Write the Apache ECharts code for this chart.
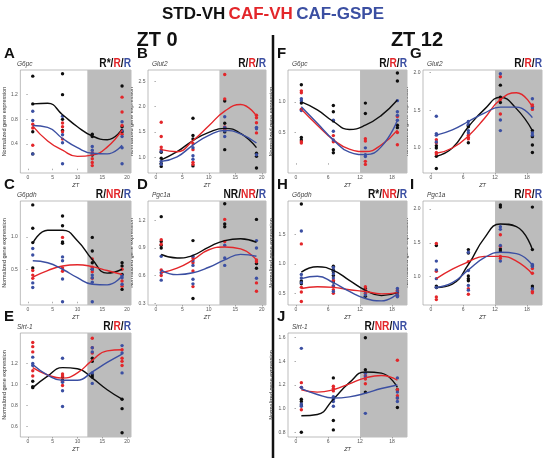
<!DOCTYPE html>
<html><head><meta charset="utf-8">
<script src="https://cdn.jsdelivr.net/npm/echarts@6/dist/echarts.min.js"></script>
<style>html,body{margin:0;padding:0;background:#fff}#c{width:546px;height:458px}</style>
</head><body><div id="c"></div>
<script>
// ---------- data ----------
const sampleTimes = [1, 7, 13, 19];
const fitTimes = [1, 4, 7, 10, 13, 16, 19];
const groupNames = ['STD-VH', 'CAF-VH', 'CAF-GSPE'];
const xTicksZT0 = [0, 5, 10, 15, 20];
const xTicksZT12 = [0, 6, 12, 18];
const panelLetters = ['A','B','C','D','E','F','G','H','I','J'];
const geneNames = ['G6pc','Glut2','G6pdh','Pgc1a','Sirt-1','G6pc','Glut2','G6pdh','Pgc1a','Sirt-1'];
const rhythmStats = [['R*','R','R'],['R','R','R'],['R','NR','R'],['NR','NR','R'],['R','R','R'],
                     ['R','R','R'],['R','R','R'],['R*','NR','R'],['R','R','R'],['R','NR','NR']];
const panelYTicks = [[0.4,0.8,1.2],[1.0,1.5,2.0,2.5],[0.5,1.0],[0.3,0.6,0.9,1.2],[0.6,0.8,1.0,1.2],
                     [0.5,1.0],[1.0,1.5,2.0],[0.5,1.0,1.5],[1.0,1.5,2.0],[0.8,1.0,1.2,1.4,1.6]];

// points: [STD-VH, CAF-VH, CAF-GSPE], each grouped by sample time (ZT1, ZT7, ZT13, ZT19)
const A_points = [
  [[1.50,1.05,0.60,0.24],[1.54,1.20,0.80,0.62],[0.56,0.52,0.22],[1.34,0.68,0.60]],
  [[0.72,0.66,0.38],[0.74,0.68,0.60,0.48],[0.26,0.16,0.10,0.05],[1.16,0.92,0.70,0.56]],
  [[0.93,0.78,0.24],[0.85,0.55,0.42,0.08],[0.36,0.30,0.24],[0.76,0.62,0.52,0.34,0.08]]];
const A_fits = [[1.05,1.06,0.875,0.68,0.53,0.47,0.64],[0.69,0.45,0.30,0.20,0.22,0.35,0.63],[0.70,0.67,0.49,0.34,0.25,0.24,0.38]];

const B_points = [
  [[1.10,0.98,0.88,0.82],[1.77,1.43,1.36,0.83],[2.11,1.67,1.50,1.15],[1.08,1.02,0.79]],
  [[1.69,1.41,1.20,1.15],[1.27,1.15,0.90,0.86],[2.63,2.15,1.60,1.55],[1.83,1.78,1.68,1.48]],
  [[1.12,0.92,0.86],[1.19,1.03,0.96],[1.80,1.59,1.52,1.41],[1.59,1.56,1.05]]];
const B_fits = [[0.95,1.11,1.33,1.49,1.57,1.47,1.19],[1.15,1.11,1.33,1.62,1.91,2.04,1.81],[0.92,1.01,1.24,1.43,1.53,1.46,1.28]];

const C_points = [
  [[1.49,1.13,0.91,0.52],[1.32,1.17,0.92,0.90],[0.99,0.78,0.60,0.50],[0.60,0.55,0.42,0.19]],
  [[0.48,0.41,0.36],[0.99,0.52,0.47],[0.66,0.53,0.46,0.36],[0.50,0.32,0.24]],
  [[0.82,0.72,0.29,0.22],[0.69,0.63,0.35,0.00],[0.50,0.41,0.37,0.30,0.00],[0.40,0.37,0.27]]];
const C_fits = [[0.90,1.10,1.10,0.94,0.65,0.44,0.50],[0.38,0.48,0.55,0.57,0.54,0.48,0.42],[0.63,0.60,0.50,0.37,0.27,0.26,0.40]];

const D_points = [
  [[1.24,0.97,0.93,0.90],[0.98,0.35],[1.38,1.16,1.13],[1.21,0.73,0.68]],
  [[0.99,0.94,0.66,0.60],[0.79,0.74,0.65,0.48],[1.21,0.97],[0.77,0.75,0.52,0.43]],
  [[0.81,0.63,0.55],[0.81,0.76,0.71,0.56,0.51],[0.93,0.79,0.71],[0.98,0.90,0.57]]];
const D_fits = [[0.83,0.79,0.82,0.91,0.98,1.00,0.96],[0.63,0.68,0.77,0.88,0.91,0.89,0.77],[0.66,0.61,0.63,0.69,0.77,0.83,0.81]];

const E_points = [
  [[1.03,0.98,0.97],[1.07,1.04],[1.25,1.22,1.09,1.07],[0.86,0.77,0.54]],
  [[1.40,1.36,1.31,1.13,1.08],[1.10,1.08,1.03,0.99],[1.44,1.35,1.30],[1.33,1.25,1.22,1.18]],
  [[1.26,1.20,1.18],[1.25,1.02,0.94,0.79],[1.35,1.31,1.11,1.01],[1.37,1.30,1.11]]];
const E_fits = [[0.97,1.08,1.16,1.15,1.06,0.95,0.86],[1.16,1.09,1.06,1.11,1.23,1.32,1.33],[1.19,1.09,1.04,1.04,1.12,1.21,1.29]];

const F_points = [
  [[1.28,0.98,0.42,0.38],[0.94,0.84,0.69,0.22,0.17],[0.98,0.81],[1.47,1.34,0.62,0.58]],
  [[1.18,1.15,0.88,0.35,0.33],[0.45,0.35],[0.40,0.36,0.03,-0.02],[0.76,0.50,0.30]],
  [[1.05,1.02,0.86],[0.70,0.52,0.38],[0.25,0.14,0.11],[1.02,0.84,0.78,0.70]]];
const F_fits = [[1.00,0.87,0.68,0.55,0.62,0.78,1.03],[0.88,0.62,0.38,0.23,0.19,0.30,0.54],[0.92,0.65,0.38,0.18,0.14,0.27,0.70]];

const G_points = [
  [[1.03,1.00,0.89,0.73],[1.30,1.28,1.07],[1.83,1.67,1.60],[1.23,1.15,1.04,0.94]],
  [[1.11,1.07,0.94,0.92],[1.17,1.14,1.12],[1.94,1.64,1.45],[1.57,1.55,1.51]],
  [[1.42,1.19,1.17,1.08],[1.35,1.31,1.23,1.20],[1.98,1.37,1.23],[1.65,1.53,1.20,1.17]]];
const G_fits = [[0.89,1.00,1.28,1.51,1.67,1.52,1.23],[0.93,1.00,1.16,1.39,1.64,1.73,1.54],[1.17,1.24,1.35,1.46,1.54,1.54,1.40]];

const H_points = [
  [[2.02,0.71,0.69,0.66],[0.96,0.90,0.87,0.80,0.69],[0.58,0.54,0.45],[0.51,0.46]],
  [[1.34,0.60,0.52,0.36],[0.72,0.62,0.56,0.50],[0.61,0.56,0.50],[0.55,0.49,0.45]],
  [[1.56,0.82,0.76,0.68],[0.94,0.89,0.83,0.76,0.63,0.53],[0.53,0.47],[0.58,0.53,0.47,0.44]]];
const H_fits = [[0.86,0.95,0.89,0.72,0.55,0.46,0.51],[0.58,0.61,0.60,0.56,0.53,0.49,0.51],[0.75,0.79,0.68,0.53,0.41,0.37,0.49]];

const I_points = [
  [[1.46,0.86,0.84],[1.40,1.35,1.01,0.97,0.94],[2.06,2.03,1.41,1.38],[2.03,1.40,1.16,0.86,0.83]],
  [[1.49,1.08,0.70,0.66],[1.22,0.82,0.74],[1.62,1.45,1.30,1.27],[1.12,1.05,0.78,0.76]],
  [[1.23,1.10,0.97,0.84],[1.36,1.09,0.87,0.80],[1.74,1.70,1.46,1.23],[1.18,1.15,0.82]]];
const I_fits = [[0.84,0.89,1.18,1.57,1.78,1.74,1.40],[0.97,1.11,1.22,1.30,1.30,1.23,1.04],[0.84,0.91,1.10,1.28,1.36,1.34,1.17]];

const J_points = [
  [[1.08,1.06,1.03,0.80],[1.26,0.90,0.82],[1.60,1.33,1.14],[1.16,1.01]],
  [[1.22,1.18,0.99],[1.19,1.17,1.15],[1.28,1.25,1.21],[1.41,1.16,1.11,1.09]],
  [[1.51,1.18,1.04,1.02],[1.10,1.08,1.06,1.02],[1.30,1.27,0.96],[1.26,1.14,1.09,1.06]]];
const J_fits = [[0.94,0.95,1.08,1.22,1.31,1.30,1.18],[1.16,1.14,1.16,1.21,1.26,1.28,1.24],[1.17,1.12,1.09,1.10,1.13,1.17,1.20]];

const panelPoints = [A_points,B_points,C_points,D_points,E_points,F_points,G_points,H_points,I_points,J_points];
const panelFits = [A_fits,B_fits,C_fits,D_fits,E_fits,F_fits,G_fits,H_fits,I_fits,J_fits];

// ---------- layout / style ----------
const FONT = '"Liberation Sans", Arial, Helvetica, sans-serif';
const colors = ['#0d0d0d', '#e3262a', '#3b4fa2'];
const cols = [{l:13,w:118},{l:148,w:118},{l:288,w:119},{l:423,w:119}];
const rows = [{t:70,h:103},{t:201,h:104},{t:333,h:104}];
const place = [[0,0],[1,0],[0,1],[1,1],[0,2],[2,0],[3,0],[2,1],[3,1],[2,2]];
const isZT12 = [false,false,false,false,false,true,true,true,true,true];
const yRange = [[-0.07,1.6],[0.69,2.72],[-0.05,1.55],[0.28,1.41],[0.5,1.49],
                [-0.16,1.52],[0.67,2.03],[0.3,2.07],[0.58,2.12],[0.76,1.64]];
const letterX = [4,137,4,137,4,277,410,277,410,277];
const X_MIN = -1.5, X_MAX = 20.8, SHADE_START = 12;

const grid=[], xAxis=[], yAxis=[], series=[], graphic=[];
const richStyles = {
  k:{fill:'#111', fontSize:12, fontWeight:'bold', fontFamily:FONT},
  r:{fill:colors[1], fontSize:12, fontWeight:'bold', fontFamily:FONT},
  b:{fill:colors[2], fontSize:12, fontWeight:'bold', fontFamily:FONT}
};

panelLetters.forEach((letter, i) => {
  const c = place[i][0], r = place[i][1];
  const L = cols[c].l, W = cols[c].w, T = rows[r].t, H = rows[r].h;
  grid.push({left:L, top:T, width:W, height:H, show:true, backgroundColor:'#fff', borderColor:'#a0a0a0', borderWidth:0.7});
  const xt = isZT12[i] ? xTicksZT12 : xTicksZT0;
  xAxis.push({type:'value', gridIndex:i, min:X_MIN, max:X_MAX,
    name:'ZT', nameLocation:'middle', nameGap:9,
    nameTextStyle:{fontSize:5.5, fontStyle:'italic', color:'#333', fontFamily:FONT},
    axisLine:{show:false}, splitLine:{show:false},
    axisTick:{show:true, length:1.5, customValues:xt, lineStyle:{color:'#777', width:0.6}},
    axisLabel:{customValues:xt, fontSize:5, color:'#555', margin:2.5, fontFamily:FONT, formatter:v=>String(v)}});
  yAxis.push({type:'value', gridIndex:i, min:yRange[i][0], max:yRange[i][1],
    name:'Normalized gene expression', nameLocation:'middle', nameGap:8,
    nameTextStyle:{fontSize:5.5, color:'#333', fontFamily:FONT},
    axisLine:{show:false}, splitLine:{show:false},
    axisTick:{show:true, length:1.5, customValues:panelYTicks[i], lineStyle:{color:'#777', width:0.6}},
    axisLabel:{customValues:panelYTicks[i], fontSize:5, color:'#555', margin:2.5, fontFamily:FONT, formatter:v=>v.toFixed(1)}});
  series.push({type:'line', xAxisIndex:i, yAxisIndex:i, data:[], silent:true, z:1,
    markArea:{silent:true, itemStyle:{color:'#bcbcbc'}, data:[[{xAxis:SHADE_START},{xAxis:X_MAX}]]}});
  panelPoints[i].forEach((groups, g) => {
    const data = [];
    groups.forEach((vals, t) => vals.forEach(v => data.push([sampleTimes[t], v])));
    series.push({type:'scatter', name:groupNames[g], xAxisIndex:i, yAxisIndex:i, data, symbolSize:3.4,
      itemStyle:{color:colors[g], opacity:1}, z:3, silent:true});
  });
  panelFits[i].forEach((vals, g) => {
    series.push({type:'line', name:groupNames[g], xAxisIndex:i, yAxisIndex:i,
      data:fitTimes.map((t,k)=>[t, vals[k]]), smooth:0.5, symbol:'none',
      lineStyle:{color:colors[g], width:1.4}, z:4, silent:true});
  });
  graphic.push({type:'text', x:letterX[i], y:T-16, style:{text:letter, font:'bold 15px '+FONT, fill:'#111',
    align:'left', verticalAlign:'middle', textAlign:'left', textVerticalAlign:'middle'}});
  graphic.push({type:'text', x:L+4, y:T-6, style:{text:geneNames[i], font:'italic 6.5px '+FONT, fill:'#444',
    align:'left', verticalAlign:'middle', textAlign:'left', textVerticalAlign:'middle'}});
  const s = rhythmStats[i];
  graphic.push({type:'text', x:L+W, y:T-6.5, scaleX:0.85, style:{
    text:'{k|'+s[0]+'}{k|/}{r|'+s[1]+'}{k|/}{b|'+s[2]+'}', rich:richStyles,
    align:'right', verticalAlign:'middle', textAlign:'right', textVerticalAlign:'middle'}});
});

graphic.push({type:'text', x:273, y:14, style:{
  text:'{k|'+groupNames[0]+'} {r|'+groupNames[1]+'} {b|'+groupNames[2]+'}',
  rich:{k:{fill:'#111',fontSize:17,fontWeight:'bold',fontFamily:FONT},
        r:{fill:colors[1],fontSize:17,fontWeight:'bold',fontFamily:FONT},
        b:{fill:colors[2],fontSize:17,fontWeight:'bold',fontFamily:FONT}},
  align:'center', verticalAlign:'middle', textAlign:'center', textVerticalAlign:'middle'}});
graphic.push({type:'text', x:157, y:40, style:{text:'ZT 0', font:'bold 20px '+FONT, fill:'#111',
  align:'center', verticalAlign:'middle', textAlign:'center', textVerticalAlign:'middle'}});
graphic.push({type:'text', x:417, y:40, style:{text:'ZT 12', font:'bold 20px '+FONT, fill:'#111',
  align:'center', verticalAlign:'middle', textAlign:'center', textVerticalAlign:'middle'}});
graphic.push({type:'line', shape:{x1:273, y1:35, x2:273, y2:458}, style:{stroke:'#111', lineWidth:2.5}});

const chart = echarts.init(document.getElementById('c'), null, {renderer:'canvas'});
chart.setOption({animation:false, backgroundColor:'#fff', grid, xAxis, yAxis, series, graphic});
</script>
</body></html>
